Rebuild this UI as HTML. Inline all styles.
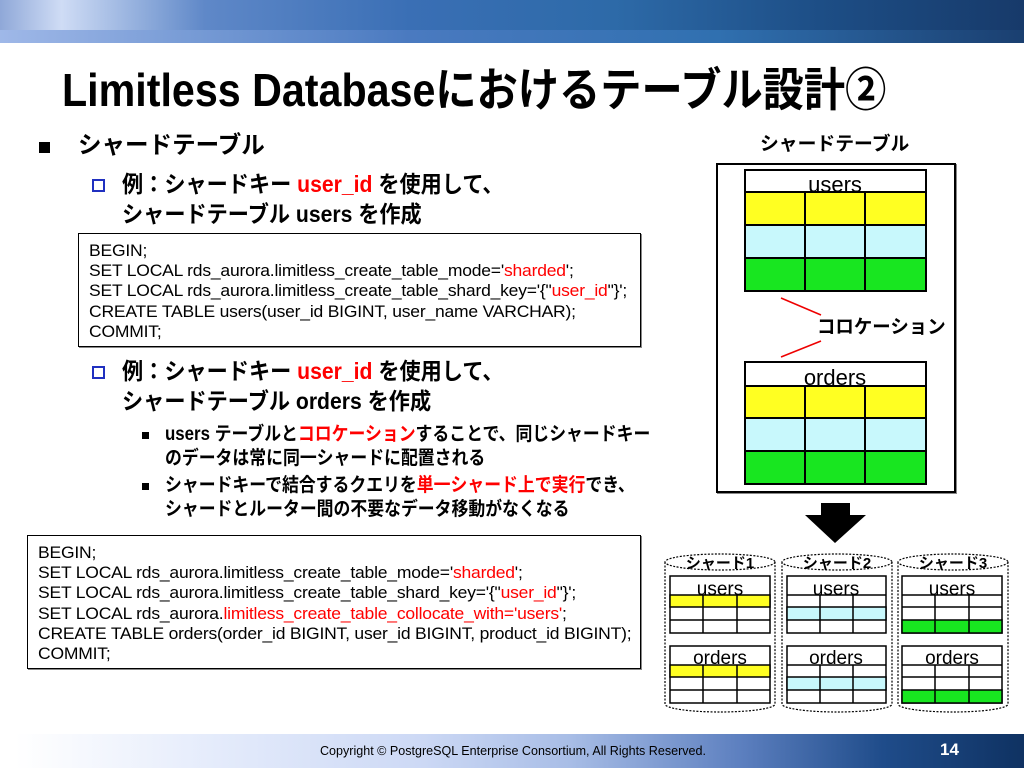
<!DOCTYPE html>
<html><head><meta charset="utf-8">
<style>
*{margin:0;padding:0;box-sizing:border-box}
body{width:1024px;height:768px;position:relative;overflow:hidden;background:#fff;font-family:"Liberation Sans","Noto Sans CJK JP",sans-serif;color:#000}
.a{position:absolute;white-space:nowrap}
.c{transform-origin:left top;display:inline-block}
.b{font-weight:bold}
.r{color:#f00}
.code{position:absolute;border:1.5px solid #000;background:#fff;box-shadow:1px 1px 0 #888}
.code div{position:absolute;left:10px;font-size:17px;white-space:nowrap;transform:scaleX(1.03);transform-origin:left top;letter-spacing:-0.2px}
</style></head><body>
<div class="a" style="left:0;top:0;width:1024px;height:43px;background:linear-gradient(90deg,#8fa8d8 0%,#cfdcf5 6%,#5f88c8 20%,#3a6fb5 40%,#2d6aa8 60%,#1d4e86 80%,#173a6a 100%)"></div>
<div class="a" style="left:0;top:30px;width:1024px;height:13px;background:linear-gradient(90deg,#9fb8e8,#4a7ac0 40%,#3070b0 70%,#1a3f70)"></div>
<div class="a b" style="left:62px;top:62px;font-size:46px;line-height:56px"><span class="c" style="transform:scaleX(0.896)">Limitless Databaseにおけるテーブル設計②</span></div>

<div class="a" style="left:39px;top:142px;width:11px;height:11px;background:#000"></div>
<div class="a b" style="left:78px;top:131px;font-size:24px;line-height:30px"><span class="c" style="transform:scaleX(0.98)">シャードテーブル</span></div>

<div class="a" style="left:92px;top:179px;width:13px;height:13px;border:2px solid #2030c0"></div>
<div class="a b" style="left:122px;top:169px;font-size:23px;line-height:30px"><span class="c" style="transform:scaleX(0.92)">例：シャードキー <span class="r">user_id</span> を使用して、</span></div>
<div class="a b" style="left:122px;top:199px;font-size:23px;line-height:30px"><span class="c" style="transform:scaleX(0.92)">シャードテーブル users を作成</span></div>

<div class="code" style="left:78px;top:233px;width:563px;height:114px">
<div style="top:7px">BEGIN;</div>
<div style="top:27px">SET LOCAL rds_aurora.limitless_create_table_mode='<span class="r">sharded</span>';</div>
<div style="top:47px">SET LOCAL rds_aurora.limitless_create_table_shard_key='{"<span class="r">user_id</span>"}';</div>
<div style="top:68px">CREATE TABLE users(user_id BIGINT, user_name VARCHAR);</div>
<div style="top:88px">COMMIT;</div>
</div>

<div class="a" style="left:92px;top:366px;width:13px;height:13px;border:2px solid #2030c0"></div>
<div class="a b" style="left:122px;top:356px;font-size:23px;line-height:30px"><span class="c" style="transform:scaleX(0.92)">例：シャードキー <span class="r">user_id</span> を使用して、</span></div>
<div class="a b" style="left:122px;top:386px;font-size:23px;line-height:30px"><span class="c" style="transform:scaleX(0.92)">シャードテーブル orders を作成</span></div>

<div class="a" style="left:142px;top:432px;width:7px;height:7px;background:#000"></div>
<div class="a b" style="left:165px;top:423px;font-size:19px;line-height:24px"><span class="c" style="transform:scaleX(0.887)">users テーブルと<span class="r">コロケーション</span>することで、同じシャードキー</span></div>
<div class="a b" style="left:165px;top:447px;font-size:19px;line-height:24px"><span class="c" style="transform:scaleX(0.887)">のデータは常に同一シャードに配置される</span></div>
<div class="a" style="left:142px;top:483px;width:7px;height:7px;background:#000"></div>
<div class="a b" style="left:165px;top:474px;font-size:19px;line-height:24px"><span class="c" style="transform:scaleX(0.887)">シャードキーで結合するクエリを<span class="r">単一シャード上で実行</span>でき、</span></div>
<div class="a b" style="left:165px;top:498px;font-size:19px;line-height:24px"><span class="c" style="transform:scaleX(0.887)">シャードとルーター間の不要なデータ移動がなくなる</span></div>

<div class="code" style="left:27px;top:535px;width:614px;height:134px">
<div style="top:7px">BEGIN;</div>
<div style="top:27px">SET LOCAL rds_aurora.limitless_create_table_mode='<span class="r">sharded</span>';</div>
<div style="top:47px">SET LOCAL rds_aurora.limitless_create_table_shard_key='{"<span class="r">user_id</span>"}';</div>
<div style="top:68px">SET LOCAL rds_aurora.<span class="r">limitless_create_table_collocate_with='users'</span>;</div>
<div style="top:88px">CREATE TABLE orders(order_id BIGINT, user_id BIGINT, product_id BIGINT);</div>
<div style="top:108px">COMMIT;</div>
</div>

<!-- right diagram -->
<div class="a b" style="left:760px;top:133px;font-size:19px;line-height:24px"><span class="c" style="transform:scaleX(0.99)">シャードテーブル</span></div>
<div class="a" style="left:716px;top:163px;width:240px;height:330px;border:2px solid #000;box-shadow:1px 1px 0 #888"></div>
<svg class="a" style="left:0;top:0" width="1024" height="768">
<g stroke="#000" stroke-width="2">
<rect x="745" y="170" width="181" height="121" fill="#fff"/>
<rect x="745" y="192" width="181" height="33" fill="#ffff22"/>
<rect x="745" y="225" width="181" height="33" fill="#c8f8fc"/>
<rect x="745" y="258" width="181" height="33" fill="#18e620"/>
<line x1="805" y1="192" x2="805" y2="291"/><line x1="865" y1="192" x2="865" y2="291"/>
<rect x="745" y="362" width="181" height="122" fill="#fff"/>
<rect x="745" y="386" width="181" height="32" fill="#ffff22"/>
<rect x="745" y="418" width="181" height="33" fill="#c8f8fc"/>
<rect x="745" y="451" width="181" height="33" fill="#18e620"/>
<line x1="805" y1="386" x2="805" y2="484"/><line x1="865" y1="386" x2="865" y2="484"/>
</g>
<g stroke="#e00" stroke-width="1.5"><line x1="781" y1="298" x2="821" y2="315"/><line x1="821" y1="341" x2="781" y2="357"/></g>
<text x="835" y="192" font-size="22" text-anchor="middle" font-family="Liberation Sans">users</text>
<text x="835" y="385" font-size="22" text-anchor="middle" font-family="Liberation Sans">orders</text>
<polygon points="821,503 850,503 850,515 866,515 835,543 805,515 821,515" fill="#000"/>
</svg>
<div class="a b" style="left:817px;top:316px;font-size:19px;line-height:24px"><span class="c" style="transform:scaleX(0.97)">コロケーション</span></div>

<svg class="a" style="left:0;top:0" width="1024" height="768" font-family="Liberation Sans">
<defs>
<g id="cyl">
<path d="M0,10 L0,152 A55,8 0 0 0 110,152 L110,10" fill="#fff" stroke="#000" stroke-width="1.2" stroke-dasharray="2,1.5"/>
<ellipse cx="55" cy="10" rx="55" ry="8" fill="#fff" stroke="#000" stroke-width="1.2" stroke-dasharray="2,1.5"/>
</g>
</defs>
<use href="#cyl" x="665" y="552"/>
<use href="#cyl" x="782" y="552"/>
<use href="#cyl" x="898" y="552"/>
<g stroke="#000" stroke-width="1.5" fill="#fff">
<rect x="670" y="576" width="100" height="57"/>
<rect x="670" y="595" width="100" height="12" fill="#ffff22"/>
<line x1="670" y1="620" x2="770" y2="620"/>
<line x1="703" y1="595" x2="703" y2="633"/><line x1="737" y1="595" x2="737" y2="633"/>
<rect x="670" y="646" width="100" height="57"/>
<rect x="670" y="665" width="100" height="12" fill="#ffff22"/>
<line x1="670" y1="690" x2="770" y2="690"/>
<line x1="703" y1="665" x2="703" y2="703"/><line x1="737" y1="665" x2="737" y2="703"/>
<rect x="787" y="576" width="99" height="57"/>
<line x1="787" y1="595" x2="886" y2="595"/>
<rect x="787" y="607" width="99" height="13" fill="#c8f8fc"/>
<line x1="820" y1="595" x2="820" y2="633"/><line x1="853" y1="595" x2="853" y2="633"/>
<rect x="787" y="646" width="99" height="57"/>
<line x1="787" y1="665" x2="886" y2="665"/>
<rect x="787" y="677" width="99" height="13" fill="#c8f8fc"/>
<line x1="820" y1="665" x2="820" y2="703"/><line x1="853" y1="665" x2="853" y2="703"/>
<rect x="902" y="576" width="100" height="57"/>
<line x1="902" y1="595" x2="1002" y2="595"/><line x1="902" y1="607" x2="1002" y2="607"/>
<rect x="902" y="620" width="100" height="13" fill="#18e620"/>
<line x1="935" y1="595" x2="935" y2="633"/><line x1="969" y1="595" x2="969" y2="633"/>
<rect x="902" y="646" width="100" height="57"/>
<line x1="902" y1="665" x2="1002" y2="665"/><line x1="902" y1="677" x2="1002" y2="677"/>
<rect x="902" y="690" width="100" height="13" fill="#18e620"/>
<line x1="935" y1="665" x2="935" y2="703"/><line x1="969" y1="665" x2="969" y2="703"/>
</g>
<g font-size="19" text-anchor="middle">
<text x="720" y="595">users</text><text x="836" y="595">users</text><text x="952" y="595">users</text>
<text x="720" y="664">orders</text><text x="836" y="664">orders</text><text x="952" y="664">orders</text>
</g>
<g font-size="15" font-weight="bold" text-anchor="middle" font-family="Liberation Sans,Noto Sans CJK JP,sans-serif">
<text x="720" y="568">シャード1</text><text x="837" y="568">シャード2</text><text x="953" y="568">シャード3</text>
</g>
</svg>

<div class="a" style="left:15px;top:734px;width:1009px;height:34px;background:linear-gradient(90deg,#ffffff 0%,#e4ebfb 20%,#cdd9f5 40%,#a8bde6 55%,#5c7fbf 72%,#1f4c8a 86%,#0f3262 100%)"></div>
<div class="a" style="left:320px;top:742px;font-size:13px;line-height:18px"><span class="c" style="transform:scaleX(0.965)">Copyright © PostgreSQL Enterprise Consortium, All Rights Reserved.</span></div>
<div class="a b" style="left:940px;top:740px;font-size:17px;line-height:20px;color:#fff">14</div>
</body></html>
